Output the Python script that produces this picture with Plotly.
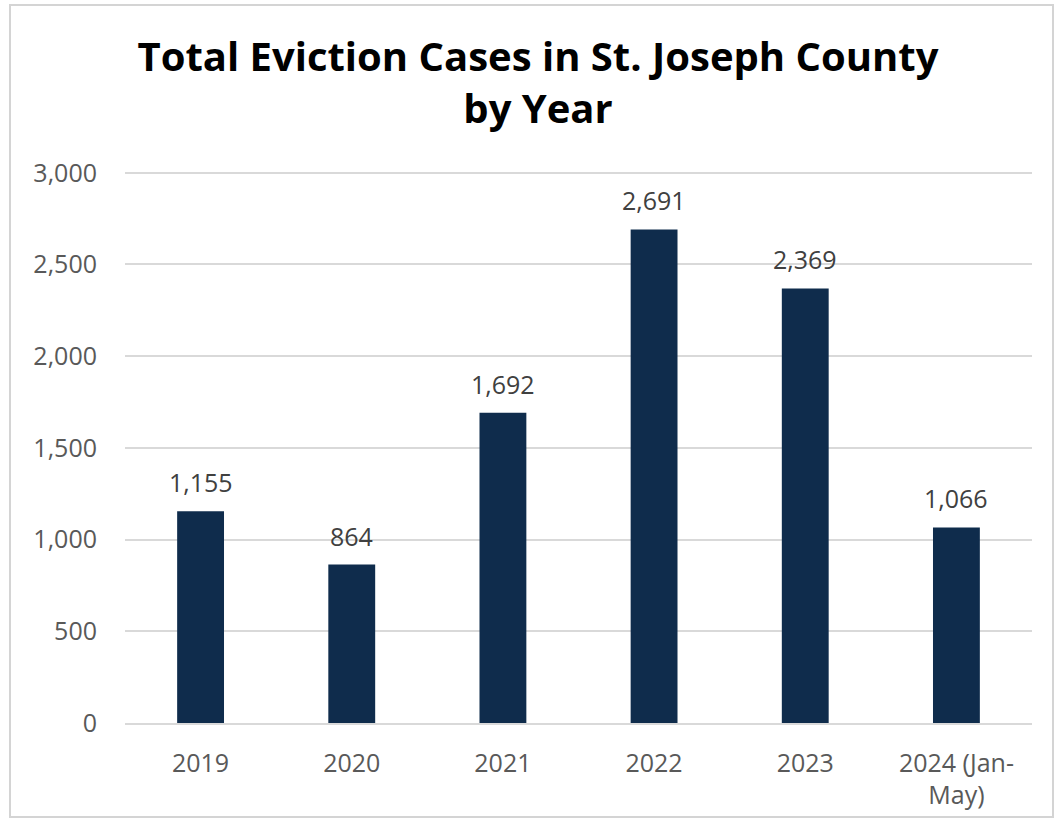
import plotly.graph_objects as go

categories = ["2019", "2020", "2021", "2022", "2023", "2024 (Jan-<br>May)"]
cases = [1155, 864, 1692, 2691, 2369, 1066]
y_ticks = [0, 500, 1000, 1500, 2000, 2500, 3000]
y_tick_labels = ["0", "500", "1,000", "1,500", "2,000", "2,500", "3,000"]

BAR = "#0f2c4c"
TXT = "#595959"
FONT = "Open Sans"

fig = go.Figure()
fig.add_trace(go.Bar(
    x=categories, y=cases, marker=dict(color=BAR, line=dict(width=0)),
    hoverinfo="x+y",
))

for i, v in enumerate(cases):
    fig.add_annotation(x=i, y=v, xref="x", yref="y", text=f"{v:,}", showarrow=False,
                       yanchor="bottom", yshift=10,
                       font=dict(family=FONT, size=25, color="#404040"))

fig.add_shape(type="rect", xref="paper", yref="paper",
              x0=(10 - 125) / 907, x1=(1053 - 125) / 907,
              y0=(723 - 817) / 553, y1=(723 - 5) / 553,
              line=dict(color="#d4d4d4", width=2), layer="below")

fig.update_layout(
    width=1061, height=824,
    margin=dict(l=125, r=29, t=170, b=101),
    paper_bgcolor="white", plot_bgcolor="white",
    bargap=0.69,
    showlegend=False,
    title=dict(text="<b>Total Eviction Cases in St. Joseph County<br>by Year</b>",
               x=538 / 1061, xanchor="center", xref="container",
               y=1 - 71 / 824, yanchor="top", yref="container",
               font=dict(family=FONT, size=40, color="#000000")),
    font=dict(family=FONT, color=TXT, size=25),
    xaxis=dict(type="category", categoryorder="array", categoryarray=categories,
               range=[-0.5, 5.5], showline=True, linecolor="#d9d9d9", linewidth=1.5,
               ticks="outside", ticklen=17, tickcolor="rgba(0,0,0,0)",
               tickfont=dict(family=FONT, size=25, color=TXT)),
    yaxis=dict(range=[0, 3015], tickvals=y_ticks, ticktext=y_tick_labels,
               showgrid=True, gridcolor="#d9d9d9", gridwidth=1.5,
               zeroline=False, showline=False,
               ticks="outside", ticklen=22, tickcolor="rgba(0,0,0,0)",
               tickfont=dict(family=FONT, size=25, color=TXT)),
)

fig.write_html("out.html", config={"displayModeBar": False},
               post_script="document.body.style.margin='0';document.body.style.overflow='hidden';")
